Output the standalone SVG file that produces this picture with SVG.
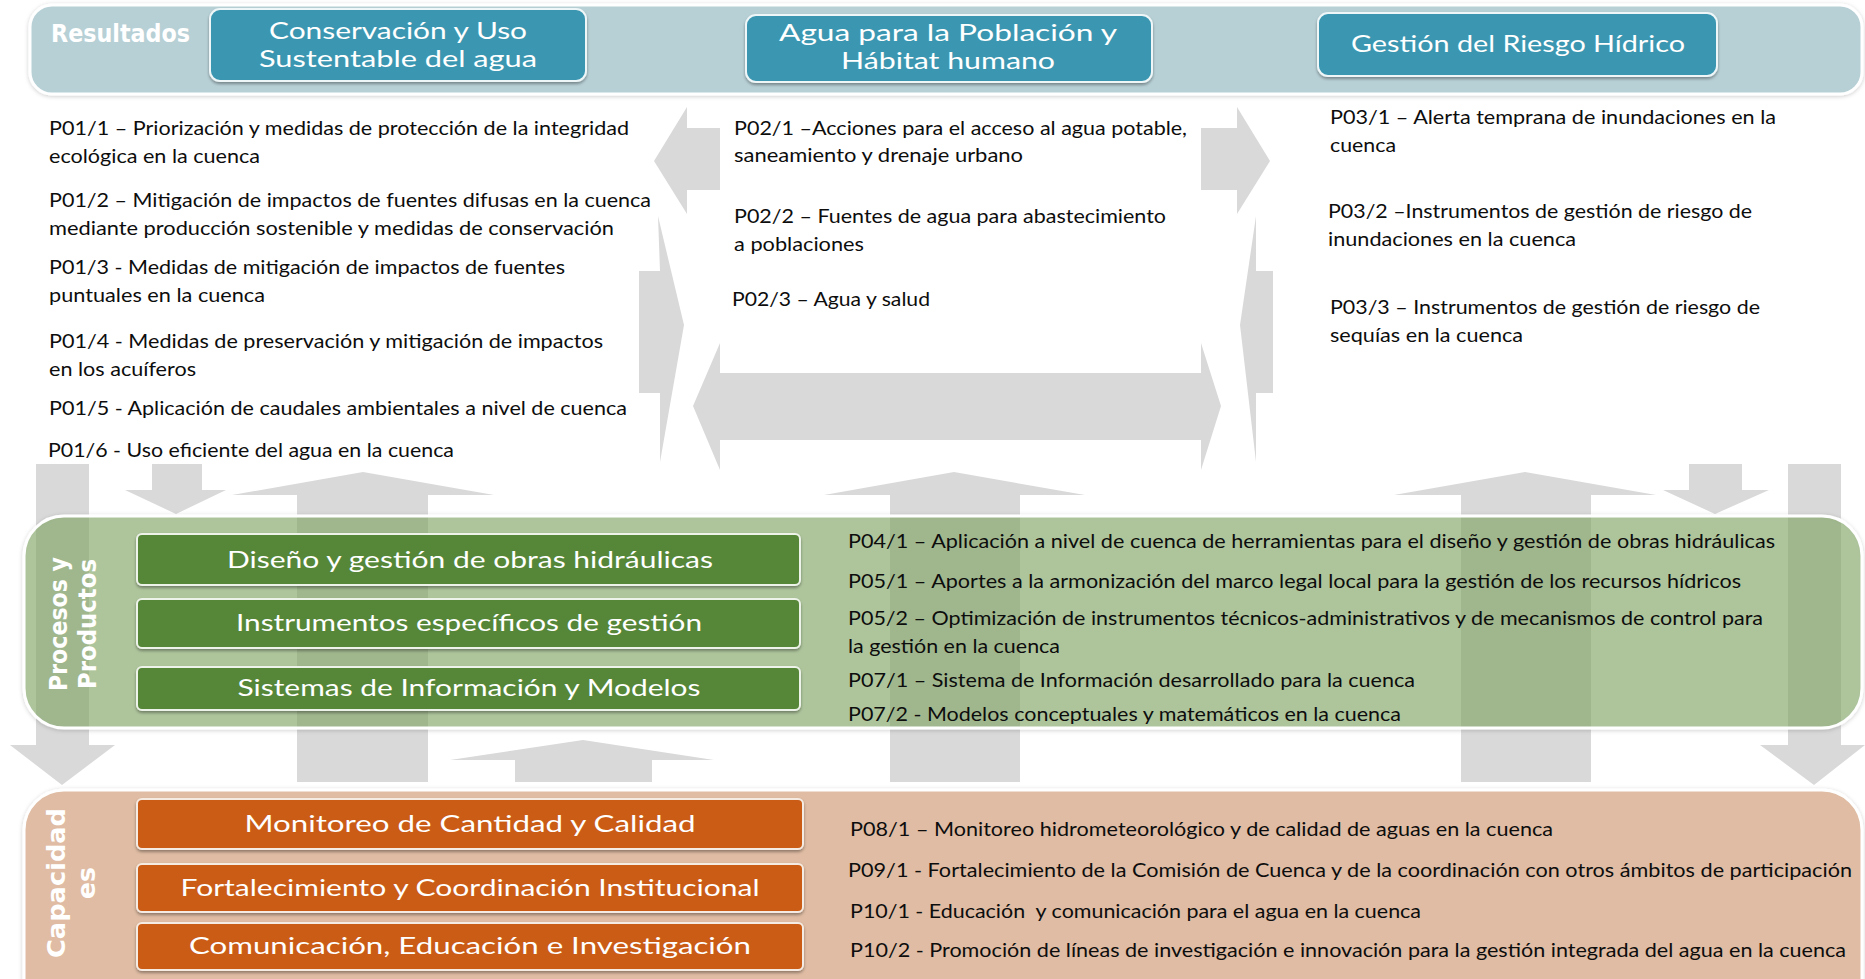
<svg xmlns="http://www.w3.org/2000/svg" width="1865" height="979" viewBox="0 0 1865 979">
<defs>
<style>
.arrow{fill:#d9d9d9;}
.t{font-family:Lato,"Open Sans","Liberation Sans",sans-serif;font-size:20px;fill:#0d0d0d;}
.bt{font-family:Lato,"Open Sans","Liberation Sans",sans-serif;font-size:22.5px;fill:#ffffff;text-anchor:middle;}
.lbl{font-family:"DejaVu Sans","Liberation Sans",sans-serif;font-weight:bold;fill:#ffffff;}
.teal{fill:#3a97b1;stroke:#eef6f8;stroke-width:2;filter:url(#sh);}
.green{fill:#568737;stroke:#eef3ea;stroke-width:2;filter:url(#sh);}
.orange{fill:#ca5b15;stroke:#f6ebe3;stroke-width:2;filter:url(#sh);}
</style>
<filter id="sh" x="-5%" y="-20%" width="110%" height="150%">
<feDropShadow dx="0" dy="2" stdDeviation="1.5" flood-color="#000" flood-opacity="0.35"/>
</filter>
<filter id="glow" x="-2%" y="-10%" width="104%" height="130%">
<feDropShadow dx="0" dy="1" stdDeviation="2" flood-color="#000" flood-opacity="0.2"/>
</filter>
</defs>
<rect width="1865" height="979" fill="#ffffff"/>

<g id="connectors">
<polygon class="arrow" points="654,161 687,107 687,128 720,128 720,190 687,190 687,214"/>
<polygon class="arrow" points="1270,161 1237,107 1237,128 1201,128 1201,190 1237,190 1237,214"/>
<polygon class="arrow" points="693,406 720,343 720,373 1201,373 1201,343 1221,406 1201,470 1201,440 720,440 720,470"/>
<polygon class="arrow" points="658,216 684,325 660,462 660,393 639,393 639,271 660,271"/>
<polygon class="arrow" points="1256,216 1240,325 1256,462 1256,393 1273,393 1273,271 1256,271"/>
<polygon class="arrow" points="36,464 89,464 89,745 115,745 62,785 10,745 36,745"/>
<polygon class="arrow" points="152,464 202,464 202,490 226,490 176,514 125,490 152,490"/>
<polygon class="arrow" points="363,472 494,495 428,495 428,782 297,782 297,495 232,495"/>
<polygon class="arrow" points="583,740 714,760 652,760 652,782 515,782 515,760 450,760"/>
<polygon class="arrow" points="954,472 1085,495 1020,495 1020,782 890,782 890,495 824,495"/>
<polygon class="arrow" points="1525,472 1656,495 1591,495 1591,782 1461,782 1461,495 1394,495"/>
<polygon class="arrow" points="1689,464 1742,464 1742,490 1769,490 1715,514 1663,490 1689,490"/>
<polygon class="arrow" points="1788,464 1841,464 1841,745 1865,745 1814,785 1760,745 1788,745"/>
</g>

<g id="band-resultados">
<rect x="30" y="5" width="1832" height="89" rx="22" fill="#b7d0d6" stroke="#ffffff" stroke-width="3" filter="url(#glow)"/>
<text class="lbl" x="51" y="42" font-size="24" textLength="139" lengthAdjust="spacingAndGlyphs">Resultados</text>
</g>

<g id="box-conservacion">
<rect class="teal" x="210" y="9" width="376" height="72" rx="10"/>
<text class="bt" x="398" y="39" textLength="258" lengthAdjust="spacingAndGlyphs">Conservación y Uso</text>
<text class="bt" x="398" y="67" textLength="278" lengthAdjust="spacingAndGlyphs">Sustentable del agua</text>
</g>
<g id="box-agua-poblacion">
<rect class="teal" x="746" y="15" width="406" height="67" rx="10"/>
<text class="bt" x="948" y="41" textLength="338" lengthAdjust="spacingAndGlyphs">Agua para la Población y</text>
<text class="bt" x="948" y="69" textLength="214" lengthAdjust="spacingAndGlyphs">Hábitat humano</text>
</g>
<g id="box-riesgo">
<rect class="teal" x="1318" y="13" width="399" height="63" rx="10"/>
<text class="bt" x="1518" y="52" textLength="334" lengthAdjust="spacingAndGlyphs">Gestión del Riesgo Hídrico</text>
</g>

<g id="text-p01">
<text class="t" x="49" y="135" textLength="580" lengthAdjust="spacingAndGlyphs">P01/1 – Priorización y medidas de protección de la integridad</text>
<text class="t" x="49" y="163" textLength="211" lengthAdjust="spacingAndGlyphs">ecológica en la cuenca</text>
<text class="t" x="49" y="207" textLength="602" lengthAdjust="spacingAndGlyphs">P01/2 – Mitigación de impactos de fuentes difusas en la cuenca</text>
<text class="t" x="49" y="235" textLength="565" lengthAdjust="spacingAndGlyphs">mediante producción sostenible y medidas de conservación</text>
<text class="t" x="49" y="274" textLength="516" lengthAdjust="spacingAndGlyphs">P01/3 - Medidas de mitigación de impactos de fuentes</text>
<text class="t" x="49" y="302" textLength="216" lengthAdjust="spacingAndGlyphs">puntuales en la cuenca</text>
<text class="t" x="49" y="348" textLength="554" lengthAdjust="spacingAndGlyphs">P01/4 - Medidas de preservación y mitigación de impactos</text>
<text class="t" x="49" y="376" textLength="147" lengthAdjust="spacingAndGlyphs">en los acuíferos</text>
<text class="t" x="49" y="415" textLength="578" lengthAdjust="spacingAndGlyphs">P01/5 - Aplicación de caudales ambientales a nivel de cuenca</text>
<text class="t" x="48" y="457" textLength="406" lengthAdjust="spacingAndGlyphs">P01/6 - Uso eficiente del agua en la cuenca</text>
</g>

<g id="text-p02">
<text class="t" x="734" y="135" textLength="453" lengthAdjust="spacingAndGlyphs">P02/1 –Acciones para el acceso al agua potable,</text>
<text class="t" x="734" y="162" textLength="289" lengthAdjust="spacingAndGlyphs">saneamiento y drenaje urbano</text>
<text class="t" x="734" y="223" textLength="432" lengthAdjust="spacingAndGlyphs">P02/2 – Fuentes de agua para abastecimiento</text>
<text class="t" x="734" y="251" textLength="130" lengthAdjust="spacingAndGlyphs">a poblaciones</text>
<text class="t" x="732" y="306" textLength="198" lengthAdjust="spacingAndGlyphs">P02/3 – Agua y salud</text>
</g>

<g id="text-p03">
<text class="t" x="1330" y="124" textLength="446" lengthAdjust="spacingAndGlyphs">P03/1 – Alerta temprana de inundaciones en la</text>
<text class="t" x="1330" y="152" textLength="66" lengthAdjust="spacingAndGlyphs">cuenca</text>
<text class="t" x="1328" y="218" textLength="424" lengthAdjust="spacingAndGlyphs">P03/2 –Instrumentos de gestión de riesgo de</text>
<text class="t" x="1328" y="246" textLength="248" lengthAdjust="spacingAndGlyphs">inundaciones en la cuenca</text>
<text class="t" x="1330" y="314" textLength="430" lengthAdjust="spacingAndGlyphs">P03/3 – Instrumentos de gestión de riesgo de</text>
<text class="t" x="1330" y="342" textLength="193" lengthAdjust="spacingAndGlyphs">sequías en la cuenca</text>
</g>

<g id="band-procesos">
<rect x="24" y="516" width="1838" height="212" rx="40" fill="#83a967" fill-opacity="0.58" stroke="#ffffff" stroke-width="3" filter="url(#glow)"/>
<text class="lbl" font-size="24" text-anchor="middle" transform="translate(67,624) rotate(-90)" textLength="134" lengthAdjust="spacingAndGlyphs">Procesos y</text>
<text class="lbl" font-size="24" text-anchor="middle" transform="translate(96,624) rotate(-90)" textLength="130" lengthAdjust="spacingAndGlyphs">Productos</text>
</g>

<g id="box-obras">
<rect class="green" x="137" y="534" width="663" height="51" rx="5"/>
<text class="bt" x="470" y="568" textLength="486" lengthAdjust="spacingAndGlyphs">Diseño y gestión de obras hidráulicas</text>
</g>
<g id="box-instrumentos">
<rect class="green" x="137" y="599" width="663" height="49" rx="5"/>
<text class="bt" x="469" y="631" textLength="466" lengthAdjust="spacingAndGlyphs">Instrumentos específicos de gestión</text>
</g>
<g id="box-sistemas">
<rect class="green" x="137" y="667" width="663" height="43" rx="5"/>
<text class="bt" x="469" y="696" textLength="463" lengthAdjust="spacingAndGlyphs">Sistemas de Información y Modelos</text>
</g>

<g id="text-procesos">
<text class="t" x="848" y="548" textLength="927" lengthAdjust="spacingAndGlyphs">P04/1 – Aplicación a nivel de cuenca de herramientas para el diseño y gestión de obras hidráulicas</text>
<text class="t" x="848" y="588" textLength="893" lengthAdjust="spacingAndGlyphs">P05/1 – Aportes a la armonización del marco legal local para la gestión de los recursos hídricos</text>
<text class="t" x="848" y="625" textLength="915" lengthAdjust="spacingAndGlyphs">P05/2 – Optimización de instrumentos técnicos-administrativos y de mecanismos de control para</text>
<text class="t" x="848" y="653" textLength="212" lengthAdjust="spacingAndGlyphs">la gestión en la cuenca</text>
<text class="t" x="848" y="687" textLength="567" lengthAdjust="spacingAndGlyphs">P07/1 – Sistema de Información desarrollado para la cuenca</text>
<text class="t" x="848" y="721" textLength="553" lengthAdjust="spacingAndGlyphs">P07/2 - Modelos conceptuales y matemáticos en la cuenca</text>
</g>

<g id="band-capacidades">
<rect x="24" y="790" width="1838" height="230" rx="40" fill="#dfbca3" stroke="#ffffff" stroke-width="3" filter="url(#glow)"/>
<text class="lbl" font-size="25" text-anchor="middle" transform="translate(65,883) rotate(-90)" textLength="150" lengthAdjust="spacingAndGlyphs">Capacidad</text>
<text class="lbl" font-size="25" text-anchor="middle" transform="translate(95,883) rotate(-90)">es</text>
</g>

<g id="box-monitoreo">
<rect class="orange" x="137" y="799" width="666" height="50" rx="5"/>
<text class="bt" x="470" y="832" textLength="451" lengthAdjust="spacingAndGlyphs">Monitoreo de Cantidad y Calidad</text>
</g>
<g id="box-fortalecimiento">
<rect class="orange" x="137" y="864" width="666" height="48" rx="5"/>
<text class="bt" x="470" y="896" textLength="579" lengthAdjust="spacingAndGlyphs">Fortalecimiento y Coordinación Institucional</text>
</g>
<g id="box-comunicacion">
<rect class="orange" x="137" y="923" width="666" height="47" rx="5"/>
<text class="bt" x="470" y="954" textLength="562" lengthAdjust="spacingAndGlyphs">Comunicación, Educación e Investigación</text>
</g>

<g id="text-capacidades">
<text class="t" x="850" y="836" textLength="703" lengthAdjust="spacingAndGlyphs">P08/1 – Monitoreo hidrometeorológico y de calidad de aguas en la cuenca</text>
<text class="t" x="848" y="877" textLength="1004" lengthAdjust="spacingAndGlyphs">P09/1 - Fortalecimiento de la Comisión de Cuenca y de la coordinación con otros ámbitos de participación</text>
<text class="t" x="850" y="918" textLength="571" lengthAdjust="spacingAndGlyphs" xml:space="preserve">P10/1 - Educación  y comunicación para el agua en la cuenca</text>
<text class="t" x="850" y="957" textLength="996" lengthAdjust="spacingAndGlyphs">P10/2 - Promoción de líneas de investigación e innovación para la gestión integrada del agua en la cuenca</text>
</g>
</svg>
